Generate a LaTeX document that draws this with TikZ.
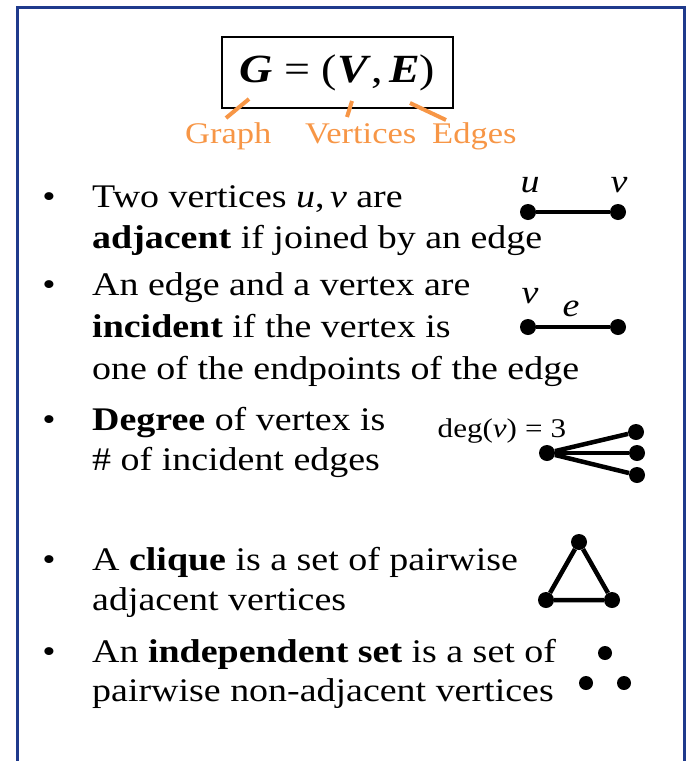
\documentclass[tikz,border=0pt]{standalone}
\usepackage{fontspec}
\setmainfont{Liberation Serif}[FakeStretch=1.15]
\definecolor{frameblue}{RGB}{31,58,140}
\definecolor{lblorange}{RGB}{247,150,70}
\tikzset{
  txt/.style={anchor=base west, inner sep=0pt, font=\fontsize{33}{40}\selectfont},
  bul/.style={anchor=base, inner sep=0pt, font=\fontsize{33}{40}\selectfont},
  lbl/.style={anchor=base west, inner sep=0pt, text=lblorange, font=\fontsize{30}{36}\selectfont},
  mathlbl/.style={anchor=base, inner sep=0pt, font=\fontsize{33}{40}\selectfont\itshape},
  dot/.style={circle, fill=black, minimum size=16pt, inner sep=0pt},
  sdot/.style={circle, fill=black, minimum size=14pt, inner sep=0pt},
  edge/.style={line width=4.5pt},
  pointer/.style={draw=lblorange, line width=4pt},
}
\begin{document}
\begin{tikzpicture}[x=1pt,y=-1pt]
\useasboundingbox (0,0) rectangle (688,761);
% frame
\draw[frameblue, line width=3pt] (17,761) -- (17,7) -- (684,7) -- (684,761);
% title
\node[draw=black, line width=1.5pt, minimum width=231pt, minimum height=71pt, inner sep=0pt,
      font=\fontsize{40}{48}\selectfont] (title) at (337.5,72.5)
      {\textbf{\textit{G}} = (\textbf{\textit{V}},\,\textbf{\textit{E}})};
\node[lbl] (graph) at (185,143) {Graph};
\node[lbl] (vert) at (305,143) {Vertices};
\node[lbl] (edges) at (432,143) {Edges};
\coordinate (gA) at (249,99);  \coordinate (gB) at (226,118);
\coordinate (vA) at (352,101); \coordinate (vB) at (347,117);
\coordinate (eA) at (410,103); \coordinate (eB) at (446,120);
\draw[pointer] (gA) -- (gB);
\draw[pointer] (vA) -- (vB);
\draw[pointer] (eA) -- (eB);
% bullets
\node[bul] (b1) at (49,207) {•};
\node[bul] (b2) at (49,295) {•};
\node[bul] (b3) at (49,430) {•};
\node[bul] (b4) at (49,570) {•};
\node[bul] (b5) at (49,662) {•};
% text lines
\node[txt] (l1) at (92,207) {Two vertices \textit{u},\,\textit{v} are};
\node[txt] (l2) at (92,248) {\textbf{adjacent} if joined by an edge};
\node[txt] (l3) at (92,295) {An edge and a vertex are};
\node[txt] (l4) at (92,337) {\textbf{incident} if the vertex is};
\node[txt] (l5) at (92,379) {one of the endpoints of the edge};
\node[txt] (l6) at (92,430) {\textbf{Degree} of vertex is};
\node[txt] (l7) at (92,470) {\# of incident edges};
\node[txt] (l8) at (92,570) {A \textbf{clique} is a set of pairwise};
\node[txt] (l9) at (92,610) {adjacent vertices};
\node[txt] (l10) at (92,662) {An \textbf{independent set} is a set of};
\node[txt] (l11) at (92,701) {pairwise non-adjacent vertices};
% adjacent graph
\node[dot] (u1) at (528,212) {};
\node[dot] (v1) at (618,212) {};
\draw[edge] (u1) -- (v1);
\node[mathlbl] (ulab) at (530,192) {u};
\node[mathlbl] (vlab) at (619,192) {v};
% incident graph
\node[dot] (v2) at (528,327) {};
\node[dot] (w2) at (618,327) {};
\draw[edge] (v2) -- (w2);
\node[mathlbl] (vlab2) at (530,303) {v};
\node[mathlbl] (elab) at (571,316) {e};
% degree graph
\node[anchor=base, inner sep=0pt, font=\fontsize{27}{32}\selectfont] (deglab) at (502,437) {deg(\textit{v})\hspace{0.3em}=\hspace{0.3em}3};
\node[dot] (c) at (547,453) {};
\node[dot] (d1) at (636,432) {};
\node[dot] (d2) at (637,453) {};
\node[dot] (d3) at (637,475) {};
\draw[edge] (c) -- (d1);
\draw[edge] (c) -- (d2);
\draw[edge] (c) -- (d3);
% clique
\node[dot] (t1) at (579,542) {};
\node[dot] (t2) at (546,600) {};
\node[dot] (t3) at (612,600) {};
\draw[edge] (t1) -- (t2) -- (t3) -- (t1);
% independent set
\node[sdot] (i1) at (605,653) {};
\node[sdot] (i2) at (586,683) {};
\node[sdot] (i3) at (624,683) {};
\end{tikzpicture}
\end{document}
